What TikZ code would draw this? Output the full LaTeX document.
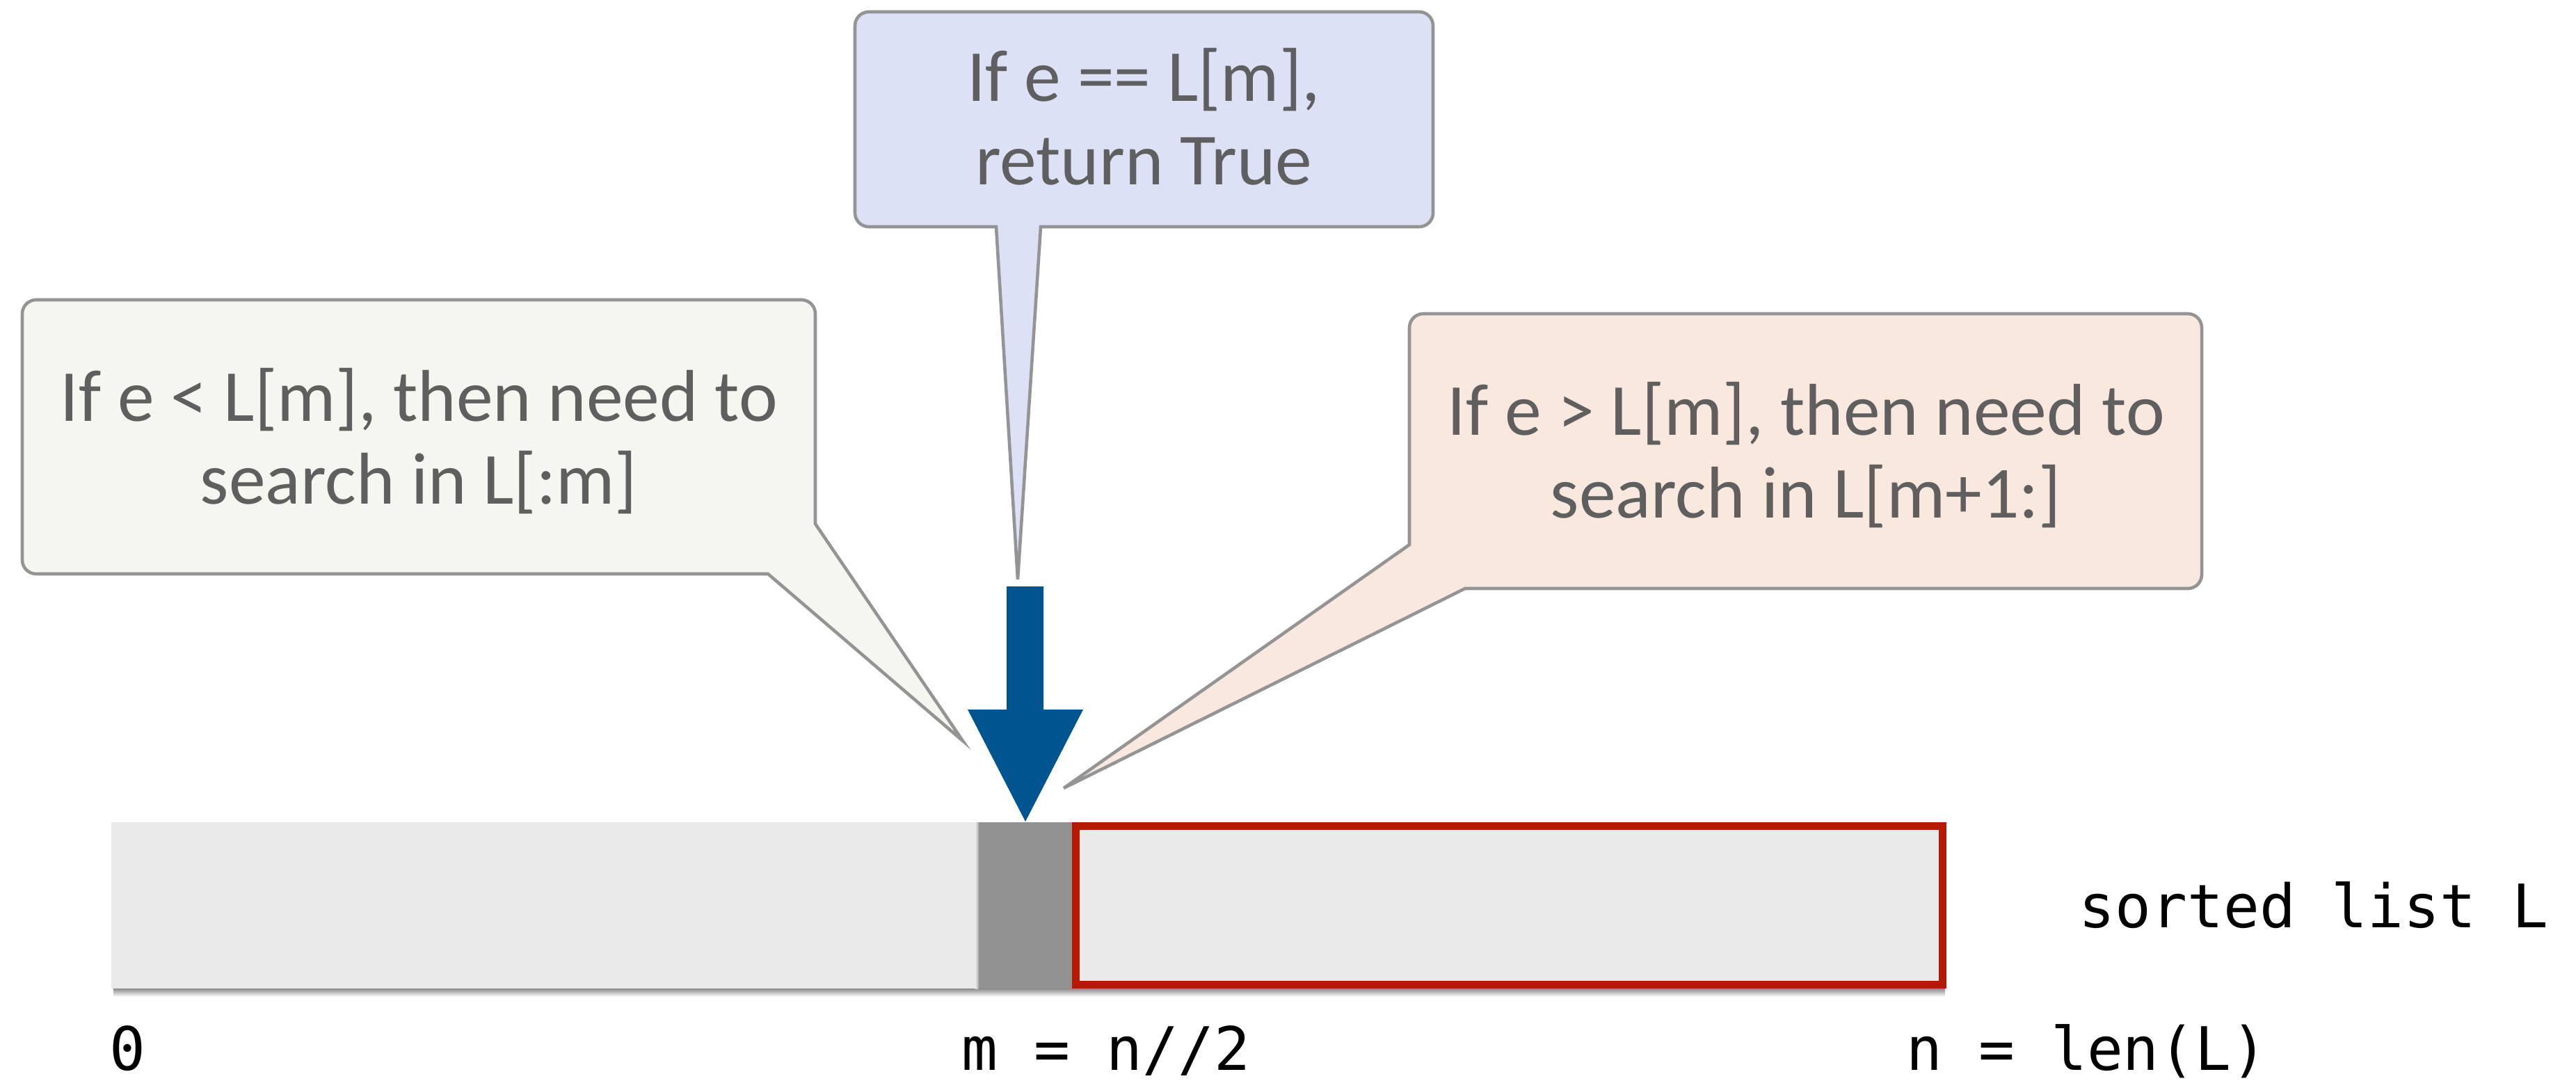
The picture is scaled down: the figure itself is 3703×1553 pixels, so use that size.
\documentclass[tikz,border=0pt]{standalone}
\usepackage{fontspec}
\setmainfont{Carlito}
\setmonofont{DejaVu Sans Mono}
\usepackage{tikz}
\usetikzlibrary{positioning}
\definecolor{edgegray}{RGB}{148,148,148}
\definecolor{notetext}{RGB}{95,95,95}
\definecolor{lessfill}{RGB}{245,246,240}
\definecolor{eqfill}{RGB}{221,225,246}
\definecolor{morefill}{RGB}{248,232,222}
\definecolor{barfill}{RGB}{234,234,234}
\definecolor{midgray}{RGB}{146,146,146}
\definecolor{pickblue}{RGB}{0,84,143}
\definecolor{keepred}{RGB}{181,26,0}

\begin{document}
\begin{tikzpicture}[x=0.01cm, y=-0.01cm,
    callout/.style={draw=edgegray, line width=1.3pt},
    note/.style={text=notetext, align=center, inner sep=0pt, font=\fontsize{30}{34}\selectfont},
    idx/.style={anchor=base west, inner sep=0pt, font=\fontsize{24.5}{29}\selectfont\ttfamily}]
        \useasboundingbox (0,0) rectangle (3703,1553);
        % the sorted list
        \shade[top color=black!45, bottom color=white] (163,1421) rectangle (2796,1433);
        \fill[barfill] (160,1182) rectangle (1407,1421);
        \shade[left color=barfill, right color=black!35] (1402,1182) rectangle (1407,1421);
        \fill[midgray] (1407,1182) rectangle (1541,1421);
        \fill[barfill] (1541,1182) rectangle (2798,1421);
        \draw[keepred, line width=0.11cm] (1546.5,1187.5) rectangle (2792.5,1415.5);
        \node[idx] (zero) at (157,1538) {0};
        \node[idx] (mid) at (1382,1538) {m = n//2};
        \node[idx] (len) at (2740,1538) {n = len(L)};
        \node[idx] (name) at (2988,1333) {sorted list L};
        % pointer to m
        \coordinate (P) at (1474,1181);
        \fill[pickblue] (1447,843) -- (1500,843) -- (1500,1020) -- (1557,1020) -- (P)
            -- (1391,1020) -- (1447,1020) -- cycle;
        % callouts
        \coordinate (tipL) at (1384,1065);
        \coordinate (tipE) at (1463,833);
        \coordinate (tipR) at (1529,1133);
        \filldraw[callout, fill=lessfill] (tipL) [sharp corners] -- (1104,825) -- (1000,825)
            [rounded corners=0.2cm] -- (32,825) -- (32,431) -- (1172,431)
            [sharp corners] -- (1172,600) -- (1172,753) -- cycle;
        \filldraw[callout, fill=eqfill] (tipE) [sharp corners] -- (1496,326) -- (1700,326)
            [rounded corners=0.2cm] -- (2060,326) -- (2060,17) -- (1229,17) -- (1229,326)
            [sharp corners] -- (1300,326) -- (1432,326) -- cycle;
        \filldraw[callout, fill=morefill] (tipR) [sharp corners] -- (2106,846) -- (2300,846)
            [rounded corners=0.2cm] -- (3165,846) -- (3165,451) -- (2026,451)
            [sharp corners] -- (2026,600) -- (2026,783) -- cycle;
        \node[note] (less) at (602,634) {If e < L[m], then need to\\search in L[:m]};
        \node[note] (equal) at (1644,168) {If e == L[m],\\return True};
        \node[note] (more) at (2596,654) {If e > L[m], then need to\\search in L[m+1:]};
      \end{tikzpicture}
\end{document}
